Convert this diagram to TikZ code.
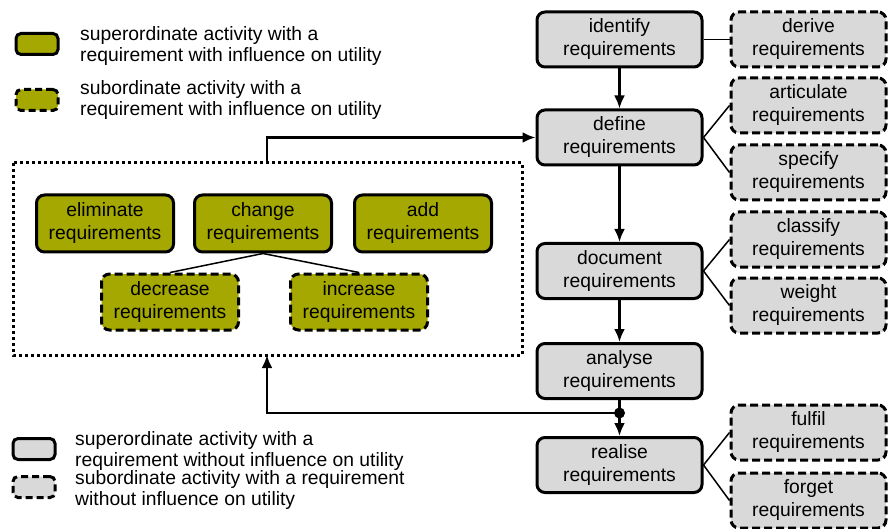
\documentclass[tikz,border=0pt]{standalone}
\usepackage{fontspec}
\setmainfont{Liberation Sans}
\usetikzlibrary{arrows.meta}
\definecolor{actgray}{RGB}{217,217,217}
\definecolor{actgreen}{RGB}{164,168,0}
\tikzset{flow arrow/.style={-{Latex[length=13pt,width=11pt]}, line width=2.5pt}}
\tikzstyle{superact} = [rectangle, rounded corners=8pt, draw, line width=3pt, fill=actgray, minimum width=165pt, minimum height=55pt, align=center, inner sep=0pt]
\tikzstyle{subact} = [superact, dash pattern=on 8pt off 4pt, minimum width=155pt]
\tikzstyle{superutil} = [superact, fill=actgreen, minimum width=137pt, minimum height=57pt]
\tikzstyle{subutil} = [superutil, dash pattern=on 8pt off 4pt, minimum height=56pt]
\tikzstyle{legendbox} = [rectangle, rounded corners=5pt, draw, line width=3pt, minimum width=42pt, minimum height=21pt, inner sep=0pt]
\tikzstyle{legendtext} = [anchor=west, align=left, inner sep=0pt, font=\fontsize{19.3}{21.5}\selectfont]

\begin{document}
\begin{tikzpicture}[x=1pt, y=-1pt]
  \tikzstyle{every node}=[font=\fontsize{19.3}{23}\selectfont]
  \useasboundingbox (0,0) rectangle (888,529);

  % main sequence
  \node [superact] (identify) at (619.5,39.5)  {identify\\requirements};
  \node [superact] (define)   at (619.5,137.5) {define\\requirements};
  \node [superact] (document) at (619.5,271)   {document\\requirements};
  \node [superact] (analyse)  at (619.5,371)   {analyse\\requirements};
  \node [superact] (realise)  at (619.5,465)   {realise\\requirements};

  % subordinate activities
  \node [subact] (derive)     at (808.5,39.5)  {derive\\requirements};
  \node [subact] (articulate) at (808.5,105.5) {articulate\\requirements};
  \node [subact] (specify)    at (808.5,172.5) {specify\\requirements};
  \node [subact] (classify)   at (808.5,239.5) {classify\\requirements};
  \node [subact] (weight)     at (808.5,305.5) {weight\\requirements};
  \node [subact] (fulfil)     at (808.5,432.5) {fulfil\\requirements};
  \node [subact] (forget)     at (808.5,500.5) {forget\\requirements};

  % activities with influence on utility
  \node [superutil] (eliminate) at (105,223.5) {eliminate\\requirements};
  \node [superutil] (change)    at (263,223.5) {change\\requirements};
  \node [superutil] (add)       at (423,223.5) {add\\requirements};
  \node [subutil]   (decrease)  at (170,302)   {decrease\\requirements};
  \node [subutil]   (increase)  at (359,302)   {increase\\requirements};
  \draw [line width=3pt, dash pattern=on 3pt off 3pt] (13,163) rectangle (522,355);
  \coordinate (utiltop) at (267,163);
  \coordinate (utilbot) at (267,355);

  % legend
  \node [legendbox, fill=actgreen] (lgsuputil) at (37,44) {};
  \node [legendtext] (lgsuputiltxt) at (80,46) {superordinate activity with a\\requirement with influence on utility};
  \node [legendbox, fill=actgreen, dash pattern=on 7pt off 4pt] (lgsubutil) at (37,100) {};
  \node [legendtext] (lgsubutiltxt) at (80,100) {subordinate activity with a\\requirement with influence on utility};
  \node [legendbox, fill=actgray] (lgsupact) at (34,449) {};
  \node [legendtext] (lgsupacttxt) at (75,451) {superordinate activity with a\\requirement without influence on utility};
  \node [legendbox, fill=actgray, dash pattern=on 7pt off 4pt] (lgsubact) at (34,487) {};
  \node [legendtext] (lgsubacttxt) at (75,490) {subordinate activity with a requirement\\without influence on utility};

  % connectors
  \draw [line width=1.5pt] (identify.east) -- (derive.west);
  \draw [line width=1.5pt] (define.east)   -- (articulate.west);
  \draw [line width=1.5pt] (define.east)   -- (specify.west);
  \draw [line width=1.5pt] (document.east) -- (classify.west);
  \draw [line width=1.5pt] (document.east) -- (weight.west);
  \draw [line width=1.5pt] (realise.east)  -- (fulfil.west);
  \draw [line width=1.5pt] (realise.east)  -- (forget.west);
  \draw [line width=1.5pt] (change.south)  -- (decrease.north);
  \draw [line width=1.5pt] (change.south)  -- (increase.north);

  \draw [flow arrow] (identify.south) -- (define.north);
  \draw [flow arrow] (define.south)   -- (document.north);
  \draw [flow arrow] (document.south) -- (analyse.north);
  \draw [flow arrow] (analyse.south)  -- (realise.north);
  \coordinate (split) at (analyse.south |- 0,413);
  \fill (split) circle (5.5pt);
  \draw [flow arrow] (split) -| (utilbot);
  \draw [flow arrow] (utiltop) |- (define.west);
\end{tikzpicture}
\end{document}
